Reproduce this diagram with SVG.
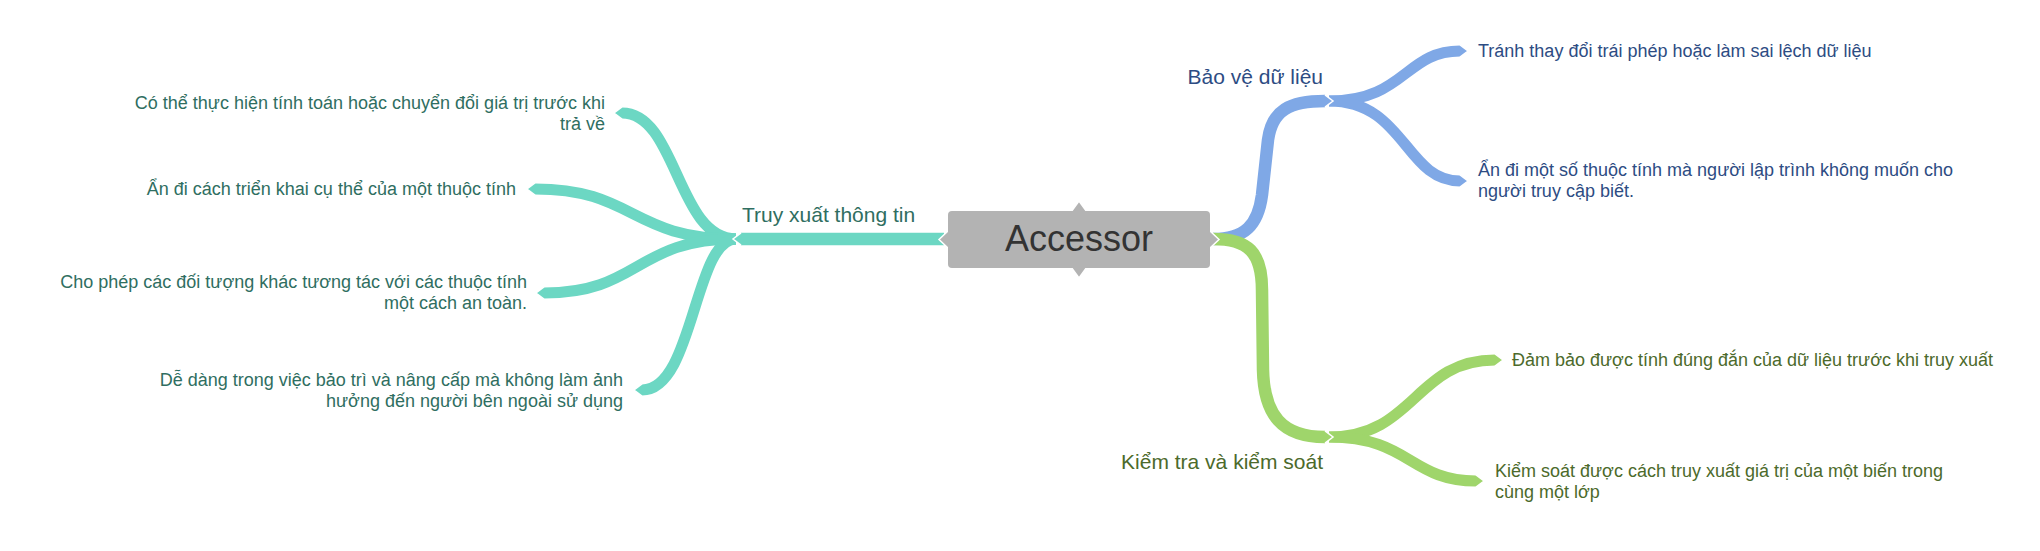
<svg xmlns="http://www.w3.org/2000/svg" width="2040" height="551" viewBox="0 0 2040 551">
<style>
.c{fill:none;stroke-linecap:butt}
.teal{stroke:#6cd7c3}
.blue{stroke:#7fa8e6}
.green{stroke:#9fd56b}
.main{stroke-width:12.5}
.sub{stroke-width:11}
text{font-family:"Liberation Sans",Arial,sans-serif}
.leaf{font-size:18px}
.lbl{font-size:21px}
.tt{fill:#2f6e61}
.bt{fill:#2d4c83}
.gt{fill:#4c6a2b}
</style>
<defs>
<marker id="mt" markerUnits="userSpaceOnUse" viewBox="0 -7 10 14" refX="0" refY="0" markerWidth="10" markerHeight="14" orient="auto" overflow="visible">
<path d="M0,-6.2 L8,0 L0,6.2 z" fill="#6cd7c3"/>
<path d="M0,-6.2 L8,0 L0,6.2" fill="none" stroke="#fff" stroke-width="1.5"/>
</marker>
<marker id="mb" markerUnits="userSpaceOnUse" viewBox="0 -7 10 14" refX="0" refY="0" markerWidth="10" markerHeight="14" orient="auto" overflow="visible">
<path d="M0,-6.2 L8,0 L0,6.2 z" fill="#7fa8e6"/>
<path d="M0,-6.2 L8,0 L0,6.2" fill="none" stroke="#fff" stroke-width="1.5"/>
</marker>
<marker id="mg" markerUnits="userSpaceOnUse" viewBox="0 -7 10 14" refX="0" refY="0" markerWidth="10" markerHeight="14" orient="auto" overflow="visible">
<path d="M0,-6.2 L8,0 L0,6.2 z" fill="#9fd56b"/>
<path d="M0,-6.2 L8,0 L0,6.2" fill="none" stroke="#fff" stroke-width="1.5"/>
</marker>
</defs>
<rect width="2040" height="551" fill="#fff"/>
<g id="connectors">
<path class="c teal sub" marker-end="url(#mt)" d="M736,239 C677,239 677,113 622,113"/>
<path class="c teal sub" marker-end="url(#mt)" d="M736,239 C630,239 635,189 535,189"/>
<path class="c teal sub" marker-end="url(#mt)" d="M736,239 C635,239 640,293 544,293"/>
<path class="c teal sub" marker-end="url(#mt)" d="M736,239 C694,239 694,390 642,390"/>
<path class="c blue sub" marker-end="url(#mb)" d="M1329,101 C1405,101 1405,51 1460,51"/>
<path class="c blue sub" marker-end="url(#mb)" d="M1329,101 C1405,101 1405,181 1460,181"/>
<path class="c green sub" marker-end="url(#mg)" d="M1329,437 C1415,437 1415,360 1495,360"/>
<path class="c green sub" marker-end="url(#mg)" d="M1329,437 C1410,437 1410,481 1476,481"/>
<path class="c teal main" marker-end="url(#mt)" d="M944,239 L741,239"/>
<path class="c blue main" marker-end="url(#mb)" d="M1213,239 C1245,239 1258,225 1262,195 L1268,140 C1272,110 1290,101 1325,101"/>
<path class="c green main" marker-end="url(#mg)" d="M1213,239 C1248,239 1262,252 1262,290 L1263,370 C1264,415 1282,437 1325,437"/>
</g>
<g id="node-accessor">
<polygon points="948,231 939,239.5 948,248 1210,248 1219,239.5 1210,231" fill="#b3b3b3" stroke="#fff" stroke-width="1.5"/>
<polygon points="1071,212 1079,201 1087,212 1087,267 1079,278 1071,267" fill="#b3b3b3" stroke="#fff" stroke-width="1.5"/>
<rect x="948" y="211" width="262" height="57" rx="4" fill="#b3b3b3"/>
<text x="1079" y="251" font-size="36" text-anchor="middle" fill="#333">Accessor</text>
</g>
<g id="node-truy-xuat">
<text class="lbl tt" x="742" y="222">Truy xuất thông tin</text>
</g>
<g id="node-bao-ve">
<text class="lbl bt" x="1323" y="84" text-anchor="end">Bảo vệ dữ liệu</text>
</g>
<g id="node-kiem-tra">
<text class="lbl gt" x="1323" y="469" text-anchor="end">Kiểm tra và kiểm soát</text>
</g>
<g id="leaf-t1">
<text class="leaf tt" text-anchor="end"><tspan x="605" y="109">Có thể thực hiện tính toán hoặc chuyển đổi giá trị trước khi</tspan><tspan x="605" y="130">trả về</tspan></text>
</g>
<g id="leaf-t2">
<text class="leaf tt" text-anchor="end" x="516" y="195">Ẩn đi cách triển khai cụ thể của một thuộc tính</text>
</g>
<g id="leaf-t3">
<text class="leaf tt" text-anchor="end"><tspan x="527" y="288">Cho phép các đối tượng khác tương tác với các thuộc tính</tspan><tspan x="527" y="309">một cách an toàn.</tspan></text>
</g>
<g id="leaf-t4">
<text class="leaf tt" text-anchor="end"><tspan x="623" y="386">Dễ dàng trong việc bảo trì và nâng cấp mà không làm ảnh</tspan><tspan x="623" y="407">hưởng đến người bên ngoài sử dụng</tspan></text>
</g>
<g id="leaf-b1">
<text class="leaf bt" x="1478" y="57">Tránh thay đổi trái phép hoặc làm sai lệch dữ liệu</text>
</g>
<g id="leaf-b2">
<text class="leaf bt"><tspan x="1478" y="176">Ẩn đi một số thuộc tính mà người lập trình không muốn cho</tspan><tspan x="1478" y="197">người truy cập biết.</tspan></text>
</g>
<g id="leaf-g1">
<text class="leaf gt" x="1512" y="366">Đảm bảo được tính đúng đắn của dữ liệu trước khi truy xuất</text>
</g>
<g id="leaf-g2">
<text class="leaf gt"><tspan x="1495" y="477">Kiểm soát được cách truy xuất giá trị của một biến trong</tspan><tspan x="1495" y="498">cùng một lớp</tspan></text>
</g>
</svg>
